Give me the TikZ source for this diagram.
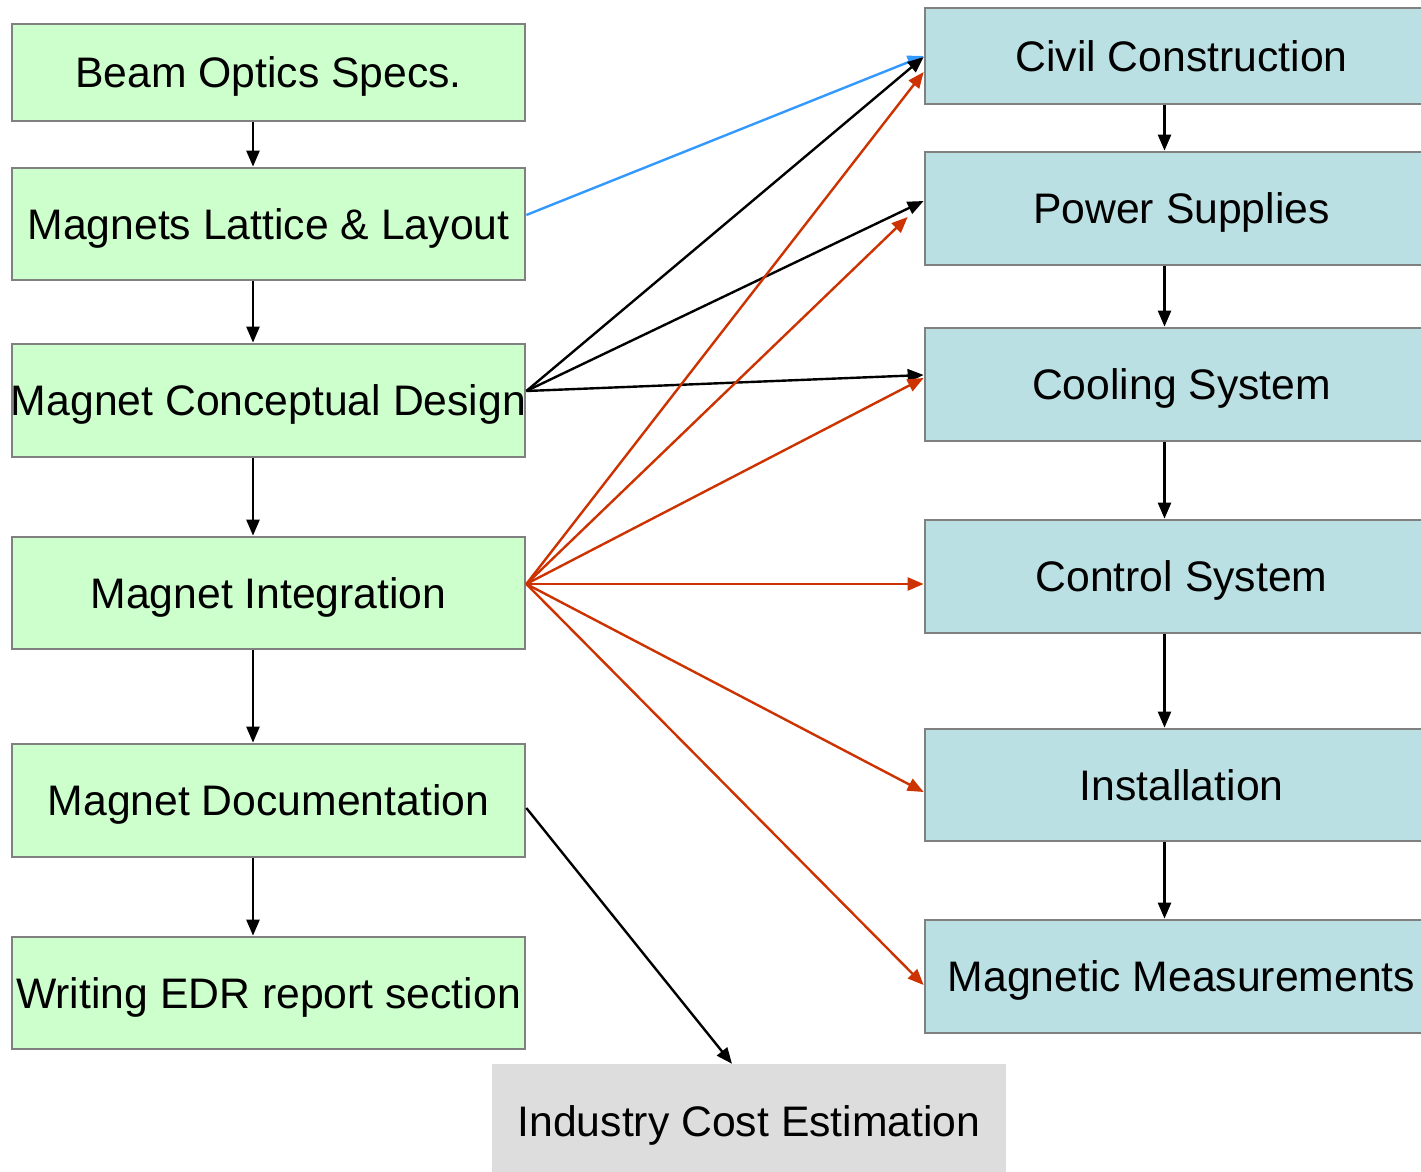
\documentclass[tikz,border=0pt]{standalone}
\usepackage{fontspec}
\setmainfont{Liberation Sans}
\usetikzlibrary{arrows.meta,calc}
\definecolor{taskgreen}{HTML}{CCFFCC}
\definecolor{taskblue}{HTML}{BBE0E3}
\definecolor{boxline}{HTML}{808080}
\definecolor{costgray}{HTML}{DDDDDD}
\definecolor{linkred}{HTML}{CC3300}
\definecolor{linkblue}{HTML}{3399FF}
\tikzset{
  box/.style={rectangle, inner sep=0pt, minimum width=513pt,
    font=\fontsize{42.7}{50}\selectfont, text height=30.5pt, text depth=0pt,
    align=center},
  leftbox/.style={box, fill=taskgreen, draw=boxline, line width=2.7pt},
  rightbox/.style={box, fill=taskblue, draw=boxline, line width=2.7pt},
  costbox/.style={box, fill=costgray, minimum width=514pt},
  arr/.style={line width=2.4pt, -{Triangle[length=16pt,width=13pt]}},
  blackarr/.style={arr, black},
  redarr/.style={arr, linkred},
  bluearr/.style={arr, linkblue},
}
\begin{document}
\begin{tikzpicture}[x=1pt,y=-1pt]
\useasboundingbox (0,0) rectangle (1421,1172);

% design chain (left column)
\node[leftbox, minimum height=97pt]  (bos) at (268.5,72.5)  {Beam Optics Specs.};
\node[leftbox, minimum height=112pt] (lat) at (268.5,224)   {Magnets Lattice \& Layout};
\node[leftbox, minimum height=113pt] (mcd) at (268.5,400.5) {\makebox[0pt]{Magnet Conceptual Design}};
\node[leftbox, minimum height=112pt] (mig) at (268.5,593)   {Magnet Integration};
\node[leftbox, minimum height=113pt] (doc) at (268.5,800.5) {Magnet Documentation};
\node[leftbox, minimum height=112pt] (edr) at (268.5,993)   {\makebox[0pt]{Writing EDR report section}};

% infrastructure chain (right column)
\node[rightbox, minimum height=96pt]  (civ) at (1181.5,56)    {Civil Construction};
\node[rightbox, minimum height=113pt] (pow) at (1181.5,208.5) {Power Supplies};
\node[rightbox, minimum height=113pt] (coo) at (1181.5,384.5) {Cooling System};
\node[rightbox, minimum height=113pt] (ctl) at (1181.5,576.5) {Control System};
\node[rightbox, minimum height=112pt] (ins) at (1181.5,785)   {Installation};
\node[rightbox, minimum height=113pt] (mms) at (1181.5,976.5) {Magnetic Measurements};

% cost estimate
\node[costbox, minimum height=115pt] (ind) at (749,1121.5) {Industry Cost Estimation};

% vertical flow, left column
\foreach \a/\b in {bos/lat, lat/mcd, mcd/mig, mig/doc, doc/edr}
  \draw[blackarr] ($(\a.south)+(-15.5,0)$) -- ($(\b.north)+(-15.5,0)$);

% vertical flow, right column
\foreach \a/\b in {civ/pow, pow/coo, coo/ctl, ctl/ins, ins/mms}
  \draw[blackarr] ($(\a.south)+(-17,0)$) -- ($(\b.north)+(-17,0)$);

% lattice to civil construction
\draw[bluearr] ($(lat.east)+(0,-9)$) -- (civ.west);

% conceptual design links
\draw[blackarr] ($(mcd.east)+(0,-9.5)$) -- ($(civ.west)+(0,1)$);
\draw[blackarr] ($(mcd.east)+(0,-9.5)$) -- ($(pow.west)+(0,-7.5)$);
\draw[blackarr] ($(mcd.east)+(0,-9.5)$) -- ($(coo.west)+(0,-9.5)$);

% integration links
\draw[redarr] ($(mig.east)+(0,-9)$) -- ($(civ.west)+(0,16)$);
\draw[redarr] ($(mig.east)+(0,-9)$) -- ($(pow.west)+(-16,8.5)$);
\draw[redarr] ($(mig.east)+(0,-9)$) -- ($(coo.west)+(0,-6.5)$);
\draw[redarr] ($(mig.east)+(0,-9)$) -- ($(ctl.west)+(0,7.5)$);
\draw[redarr] ($(mig.east)+(0,-9)$) -- ($(ins.west)+(0,7)$);
\draw[redarr] ($(mig.east)+(0,-9)$) -- ($(mms.west)+(0,8.5)$);

% documentation to cost estimate
\draw[blackarr] ($(doc.east)+(0,7.5)$) -- ($(ind.north)+(-17,0)$);
\end{tikzpicture}
\end{document}
